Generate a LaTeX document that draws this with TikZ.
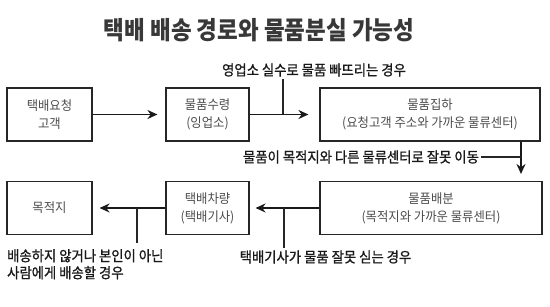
\documentclass[tikz,border=0pt]{standalone}
\usepackage{fontspec}
\usepackage{tikz}
\usetikzlibrary{arrows.meta}
\setmainfont{Noto Sans CJK KR}
\newfontfamily\boxfont[FakeStretch=0.95]{Noto Sans CJK KR}
\newfontfamily\notefont[FakeStretch=0.92,FakeBold=1]{Noto Sans CJK KR}
\newfontfamily\titlefont[FakeStretch=0.9]{Noto Sans CJK KR}

\begin{document}
\begin{tikzpicture}[>={Stealth[length=10pt,width=9pt]},x=1pt,y=-1pt,
	box/.style={draw=black!85,line width=1.1pt,minimum width=#1,minimum height=53pt,
		align=center,text=black!70,font=\boxfont\fontsize{13}{18}\selectfont},
	note/.style={inner sep=2pt,text=black!90,font=\notefont\fontsize{14.5}{17}\selectfont},
	flow/.style={->,line width=1.8pt,draw=black!90,shorten >=8pt},
	stem/.style={line width=1.3pt,draw=black!85}]
	  \useasboundingbox (0,0) rectangle (550,307);
	  \node[font=\titlefont\bfseries\fontsize{25}{28}\selectfont,text=black!78] (title) at (259,30) {택배 배송 경로와 물품분실 가능성};
	  % boxes
	  \node[box=85pt] (req) at (49.5,114.5) {택배요청\\고객};
	  \node[box=83pt] (recv) at (207.5,114.5) {물품수령\\(잉업소)};
	  \node[box=220pt] (coll) at (430,114.5) {물품집하\\(요청고객 주소와 가까운 물류센터)};
	  \node[box=222pt] (dist) at (431,208) {물품배분\\(목적지와 가까운 물류센터)};
	  \node[box=83pt] (car) at (207.5,208) {택배차량\\(택배기사)};
	  \node[box=85pt] (dest) at (49.5,208) {목적지};
	  % notes
	  \node[note] (n1) at (314,70) {영업소 실수로 물품 빠뜨리는 경우};
	  \node[note] (n2) at (361,157) {물품이 목적지와 다른 물류센터로 잘못 이동};
	  \node[note] (n3) at (325.5,257) {택배기사가 물품 잘못 싣는 경우};
	  \node[note,anchor=north west,align=left,inner sep=0pt] (n4) at (7,249) {배송하지 않거나 본인이 아닌\\사람에게 배송할 경우};
	  \coordinate (j1) at (283,114.5);
	  \coordinate (d1) at (521,142);
	  \coordinate (d2) at (521,182);
	  \coordinate (j3) at (284,208);
	  \coordinate (j4) at (137,208);
	  % flow
	  \draw[flow] (req) -- (recv);
	  \draw[flow,shorten >=11pt] (recv) -- (coll);
	  \draw[flow] (d1) -- (d2);
	  \draw[flow,shorten >=6pt] (dist) -- (car);
	  \draw[flow,shorten >=7pt] (car) -- (dest);
	  % stems
	  \draw[stem] (j1) -- (j1 |- n1.south);
	  \draw[stem] (n2.east) -- (n2.east -| d1);
	  \draw[stem] (j3) -- (j3 |- n3.north);
	  \draw[stem] (j4) -- (137,243);
	\end{tikzpicture}
\end{document}
